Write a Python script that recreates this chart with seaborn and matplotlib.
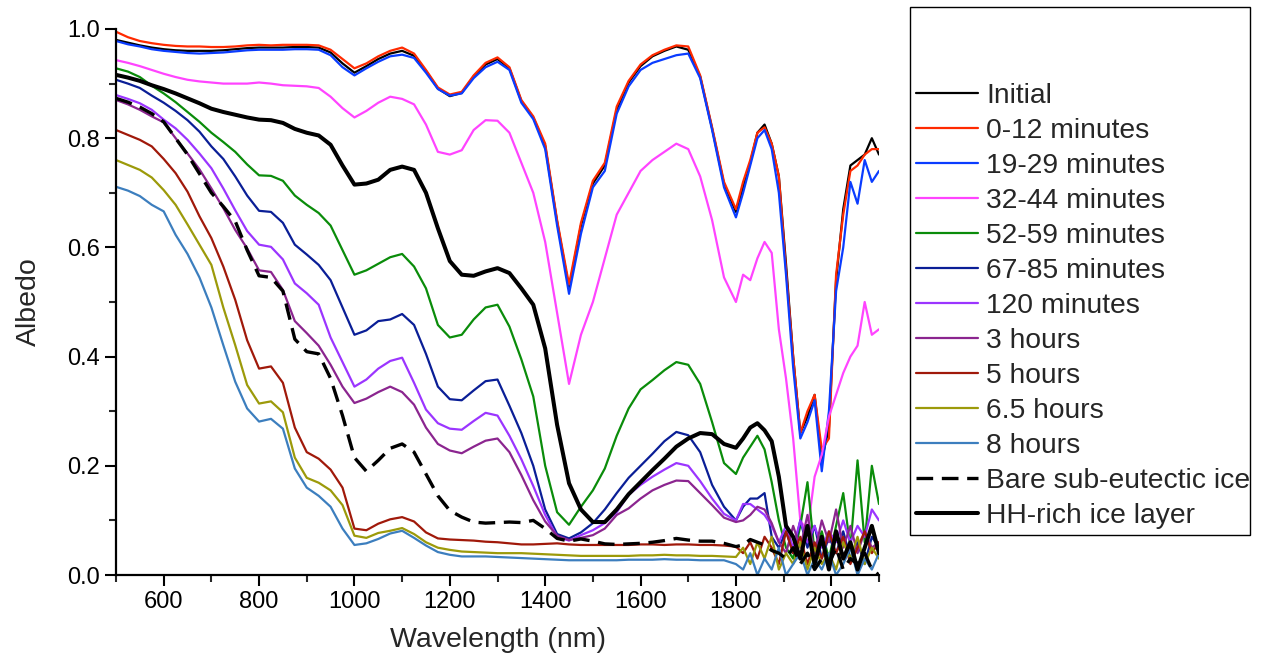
import numpy as np
import pandas as pd
import matplotlib
matplotlib.use("Agg")
import matplotlib.pyplot as plt
from matplotlib.lines import Line2D
from matplotlib.ticker import MultipleLocator, FormatStrFormatter
import seaborn as sns

# ---------------- data ----------------
wavelength = list(range(500, 1801, 25)) + list(range(1815, 2101, 15))

initial = [
    0.980, 0.975, 0.970, 0.966, 0.963, 0.961, 0.960, 0.960, 0.960, 0.961,
    0.963, 0.965, 0.966, 0.966, 0.966, 0.967, 0.967, 0.966, 0.957, 0.937,
    0.920, 0.932, 0.945, 0.955, 0.960, 0.951, 0.923, 0.891, 0.877, 0.883,
    0.913, 0.935, 0.945, 0.928, 0.868, 0.838, 0.786, 0.647, 0.525, 0.640,
    0.717, 0.750, 0.852, 0.902, 0.932, 0.950, 0.960, 0.968, 0.962, 0.913,
    0.818, 0.716, 0.665,
    0.71, 0.755, 0.81, 0.825, 0.79, 0.73, 0.57, 0.40, 0.26, 0.29,
    0.33, 0.21, 0.27, 0.54, 0.67, 0.75, 0.76, 0.77, 0.80, 0.77]

min_0_12 = [
    0.995, 0.985, 0.978, 0.974, 0.971, 0.969, 0.968, 0.968, 0.967, 0.967,
    0.968, 0.970, 0.971, 0.970, 0.971, 0.971, 0.971, 0.970, 0.962, 0.945,
    0.928, 0.937, 0.950, 0.960, 0.966, 0.955, 0.925, 0.893, 0.880, 0.885,
    0.915, 0.938, 0.948, 0.930, 0.870, 0.840, 0.790, 0.650, 0.532, 0.645,
    0.722, 0.755, 0.858, 0.905, 0.935, 0.952, 0.962, 0.970, 0.968, 0.915,
    0.820, 0.720, 0.670,
    0.72, 0.76, 0.81, 0.82, 0.79, 0.73, 0.56, 0.40, 0.26, 0.30,
    0.33, 0.23, 0.25, 0.55, 0.66, 0.74, 0.75, 0.77, 0.78, 0.78]

min_19_29 = [
    0.978, 0.972, 0.968, 0.963, 0.960, 0.958, 0.956, 0.955, 0.956, 0.957,
    0.959, 0.961, 0.962, 0.962, 0.962, 0.963, 0.963, 0.962, 0.952, 0.930,
    0.915, 0.928, 0.940, 0.950, 0.953, 0.947, 0.920, 0.890, 0.878, 0.882,
    0.910, 0.930, 0.940, 0.925, 0.865, 0.835, 0.780, 0.640, 0.515, 0.625,
    0.710, 0.740, 0.845, 0.895, 0.925, 0.938, 0.945, 0.952, 0.955, 0.910,
    0.815, 0.710, 0.655,
    0.70, 0.75, 0.80, 0.815, 0.78, 0.70, 0.55, 0.38, 0.25, 0.28,
    0.32, 0.19, 0.30, 0.52, 0.60, 0.72, 0.68, 0.76, 0.72, 0.74]

min_32_44 = [
    0.943, 0.938, 0.932, 0.925, 0.918, 0.912, 0.907, 0.904, 0.902, 0.900,
    0.900, 0.900, 0.902, 0.900, 0.897, 0.896, 0.895, 0.892, 0.876, 0.855,
    0.838, 0.850, 0.865, 0.876, 0.872, 0.862, 0.825, 0.775, 0.770, 0.778,
    0.815, 0.833, 0.832, 0.810, 0.755, 0.700, 0.610, 0.480, 0.350, 0.440,
    0.500, 0.580, 0.660, 0.700, 0.740, 0.760, 0.775, 0.790, 0.780, 0.730,
    0.650, 0.545, 0.500,
    0.55, 0.54, 0.58, 0.61, 0.59, 0.45, 0.36, 0.25, 0.10, 0.08,
    0.18, 0.22, 0.29, 0.33, 0.37, 0.40, 0.42, 0.50, 0.44, 0.45]

min_52_59 = [
    0.928, 0.922, 0.912, 0.896, 0.882, 0.866, 0.848, 0.830, 0.810, 0.793,
    0.775, 0.752, 0.732, 0.731, 0.722, 0.695, 0.678, 0.663, 0.640, 0.595,
    0.550, 0.558, 0.570, 0.582, 0.588, 0.565, 0.525, 0.458, 0.435, 0.440,
    0.468, 0.490, 0.495, 0.455, 0.395, 0.327, 0.200, 0.115, 0.092, 0.125,
    0.155, 0.195, 0.255, 0.305, 0.340, 0.357, 0.375, 0.390, 0.385, 0.350,
    0.280, 0.205, 0.185,
    0.215, 0.235, 0.255, 0.23, 0.17, 0.10, 0.05, 0.03, 0.09, 0.17,
    0.04, 0.08, 0.03, 0.09, 0.15, 0.05, 0.21, 0.06, 0.20, 0.13]

min_67_85 = [
    0.907, 0.900, 0.892, 0.878, 0.865, 0.850, 0.833, 0.812, 0.785, 0.762,
    0.730, 0.695, 0.667, 0.665, 0.645, 0.605, 0.587, 0.568, 0.540, 0.490,
    0.440, 0.448, 0.465, 0.468, 0.478, 0.458, 0.405, 0.345, 0.322, 0.320,
    0.338, 0.355, 0.358, 0.310, 0.260, 0.200, 0.120, 0.075, 0.067, 0.078,
    0.095, 0.120, 0.150, 0.178, 0.200, 0.222, 0.245, 0.262, 0.256, 0.225,
    0.165, 0.125, 0.100,
    0.125, 0.14, 0.14, 0.15, 0.07, 0.05, 0.08, 0.04, 0.10, 0.05,
    0.09, 0.03, 0.07, 0.04, 0.08, 0.03, 0.06, 0.02, 0.07, 0.05]

min_120 = [
    0.879, 0.872, 0.864, 0.852, 0.834, 0.818, 0.797, 0.772, 0.745, 0.708,
    0.668, 0.630, 0.605, 0.601, 0.578, 0.534, 0.516, 0.495, 0.435, 0.390,
    0.345, 0.358, 0.378, 0.392, 0.398, 0.352, 0.303, 0.278, 0.268, 0.266,
    0.282, 0.297, 0.292, 0.255, 0.212, 0.163, 0.110, 0.070, 0.063, 0.073,
    0.082, 0.095, 0.115, 0.147, 0.165, 0.180, 0.193, 0.205, 0.200, 0.172,
    0.140, 0.112, 0.100,
    0.13, 0.13, 0.12, 0.11, 0.09, 0.06, 0.09, 0.05, 0.10, 0.06,
    0.09, 0.05, 0.08, 0.06, 0.10, 0.06, 0.09, 0.07, 0.12, 0.10]

hours_3 = [
    0.870, 0.862, 0.852, 0.840, 0.829, 0.800, 0.772, 0.743, 0.708, 0.672,
    0.632, 0.598, 0.558, 0.555, 0.522, 0.465, 0.443, 0.420, 0.385, 0.345,
    0.315, 0.323, 0.335, 0.345, 0.335, 0.312, 0.270, 0.240, 0.228, 0.223,
    0.235, 0.246, 0.250, 0.225, 0.183, 0.137, 0.098, 0.072, 0.064, 0.068,
    0.073, 0.085, 0.110, 0.122, 0.140, 0.155, 0.165, 0.173, 0.172, 0.150,
    0.128, 0.105, 0.097,
    0.10, 0.11, 0.125, 0.12, 0.095, 0.06, 0.04, 0.09, 0.05, 0.11,
    0.04, 0.10, 0.06, 0.12, 0.05, 0.09, 0.04, 0.08, 0.05, 0.06]

hours_5 = [
    0.815, 0.806, 0.797, 0.785, 0.762, 0.736, 0.702, 0.657, 0.617, 0.565,
    0.504, 0.430, 0.378, 0.382, 0.352, 0.270, 0.225, 0.213, 0.193, 0.160,
    0.085, 0.082, 0.094, 0.102, 0.106, 0.098, 0.078, 0.067, 0.065, 0.064,
    0.063, 0.061, 0.060, 0.058, 0.056, 0.056, 0.057, 0.058, 0.056, 0.055,
    0.055, 0.055, 0.055, 0.055, 0.056, 0.056, 0.055, 0.056, 0.056, 0.055,
    0.055, 0.054, 0.052,
    0.04, 0.06, 0.03, 0.07, 0.05, 0.02, 0.08, 0.04, 0.07, 0.02,
    0.06, 0.03, 0.08, 0.04, 0.07, 0.02, 0.05, 0.08, 0.04, 0.06]

hours_6_5 = [
    0.760, 0.751, 0.742, 0.728, 0.705, 0.678, 0.642, 0.605, 0.568, 0.490,
    0.421, 0.348, 0.314, 0.318, 0.298, 0.215, 0.178, 0.169, 0.155, 0.128,
    0.072, 0.068, 0.077, 0.081, 0.086, 0.075, 0.060, 0.050, 0.046, 0.043,
    0.042, 0.041, 0.040, 0.040, 0.040, 0.039, 0.038, 0.037, 0.036, 0.035,
    0.035, 0.035, 0.035, 0.035, 0.036, 0.036, 0.037, 0.036, 0.036, 0.035,
    0.035, 0.034, 0.033,
    0.05, 0.02, 0.06, 0.03, 0.07, 0.01, 0.04, 0.02, 0.06, 0.01,
    0.05, 0.02, 0.04, 0.01, 0.06, 0.03, 0.07, 0.02, 0.05, 0.03]

hours_8 = [
    0.711, 0.704, 0.694, 0.678, 0.666, 0.623, 0.588, 0.545, 0.490, 0.421,
    0.354, 0.305, 0.281, 0.286, 0.268, 0.195, 0.160, 0.145, 0.125, 0.085,
    0.055, 0.058, 0.066, 0.076, 0.081, 0.068, 0.054, 0.042, 0.037, 0.034,
    0.034, 0.034, 0.033, 0.032, 0.031, 0.030, 0.029, 0.028, 0.027, 0.027,
    0.027, 0.027, 0.027, 0.028, 0.028, 0.028, 0.029, 0.028, 0.028, 0.027,
    0.027, 0.027, 0.020,
    0.01, 0.04, 0.00, 0.03, 0.01, 0.05, 0.00, 0.02, 0.04, 0.00,
    0.03, 0.01, 0.04, 0.00, 0.02, 0.05, 0.00, 0.03, 0.01, 0.04]

bare_ice = [
    0.873, 0.866, 0.857, 0.845, 0.830, 0.800, 0.770, 0.735, 0.700, 0.675,
    0.648, 0.595, 0.548, 0.545, 0.520, 0.432, 0.409, 0.405, 0.360, 0.292,
    0.215, 0.190, 0.210, 0.232, 0.240, 0.225, 0.185, 0.145, 0.118, 0.106,
    0.097, 0.095, 0.096, 0.097, 0.096, 0.100, 0.085, 0.067, 0.062, 0.066,
    0.062, 0.057, 0.056, 0.057, 0.058, 0.060, 0.063, 0.067, 0.064, 0.062,
    0.062, 0.058, 0.052,
    0.055, 0.065, 0.06, 0.055, 0.045, 0.04, 0.03, 0.05, 0.02, 0.04,
    0.01, 0.03, 0.02, 0.05, 0.01, 0.03, 0.02, 0.04, 0.01, 0.00]

hh_layer = [
    0.916, 0.911, 0.905, 0.897, 0.890, 0.882, 0.873, 0.864, 0.854, 0.848,
    0.843, 0.838, 0.834, 0.833, 0.828, 0.817, 0.810, 0.805, 0.788, 0.750,
    0.715, 0.717, 0.724, 0.742, 0.748, 0.742, 0.700, 0.635, 0.575, 0.550,
    0.548, 0.556, 0.562, 0.553, 0.525, 0.495, 0.415, 0.275, 0.168, 0.120,
    0.097, 0.097, 0.120, 0.148, 0.170, 0.192, 0.213, 0.235, 0.250, 0.260,
    0.258, 0.240, 0.233,
    0.25, 0.27, 0.278, 0.265, 0.245, 0.18, 0.09, 0.07, 0.03, 0.09,
    0.02, 0.07, 0.01, 0.08, 0.03, 0.06, 0.01, 0.05, 0.09, 0.04]

labels = ["Initial", "0-12 minutes", "19-29 minutes", "32-44 minutes",
          "52-59 minutes", "67-85 minutes", "120 minutes", "3 hours",
          "5 hours", "6.5 hours", "8 hours", "Bare sub-eutectic ice",
          "HH-rich ice layer"]
series = [initial, min_0_12, min_19_29, min_32_44, min_52_59, min_67_85,
          min_120, hours_3, hours_5, hours_6_5, hours_8, bare_ice, hh_layer]
colors = ["#000000", "#FF2A00", "#0A3CFF", "#FF44FF", "#0A8C0A", "#0A1E96",
          "#9B35FF", "#8B258F", "#A0190A", "#9C9A0A", "#3C7EBE", "#000000",
          "#000000"]
widths = [1.6] * 11 + [2.4, 2.9]
styles = ["-"] * 11 + [(0, (5, 2.6)), "-"]

# ---------------- figure ----------------
sns.set_style("ticks")
plt.rcParams['font.family'] = ['Liberation Sans', 'DejaVu Sans']

W, H = 1267, 667
fig = plt.figure(figsize=(W / 100, H / 100), dpi=100)
ax = fig.add_axes([116 / W, (H - 575) / H, (879 - 116) / W, (575 - 29) / H])

df = pd.concat([pd.DataFrame({"wavelength": wavelength, "albedo": vals, "series": lab})
                for lab, vals in zip(labels, series)], ignore_index=True)

handles = []
for lab, col, lw, ls in zip(labels, colors, widths, styles):
    sub = df[df["series"] == lab]
    sns.lineplot(data=sub, x="wavelength", y="albedo", color=col, linewidth=lw,
                 ax=ax, legend=False, estimator=None)
    line = ax.lines[-1]
    line.set_linestyle(ls)
    handles.append(line)

ax.set_xlim(500, 2100)
ax.set_ylim(0, 1.0)
ax.set_xticks(list(range(600, 2001, 200)))
ax.xaxis.set_minor_locator(MultipleLocator(100))
ax.yaxis.set_major_locator(MultipleLocator(0.2))
ax.yaxis.set_minor_locator(MultipleLocator(0.1))
ax.yaxis.set_major_formatter(FormatStrFormatter("%.1f"))
ax.tick_params(which="major", direction="out", length=8, width=1.5,
               labelsize=17, colors="black")
ax.tick_params(which="minor", direction="out", length=5, width=1.5)
sns.despine(ax=ax)
for s in ("left", "bottom"):
    ax.spines[s].set_linewidth(1.6)
    ax.spines[s].set_color("black")

ax.set_xlabel("Wavelength (nm)", fontsize=20.5, labelpad=10)
ax.set_ylabel("Albedo", fontsize=20.5, labelpad=18)

blank = Line2D([], [], color="none")
leg = ax.legend(handles=[blank, blank] + handles, labels=[" ", " "] + labels,
                loc="upper left", bbox_to_anchor=(910 / W, 1 - 8 / H, 340 / W, 0.001),
                bbox_transform=fig.transFigure, mode="expand", borderaxespad=0,
                borderpad=0.2, fontsize=20.3, handlelength=2.2, handletextpad=0.3,
                labelspacing=0.32, frameon=True, fancybox=False, framealpha=1)
leg.get_frame().set_edgecolor("black")
leg.get_frame().set_linewidth(1.0)

fig.savefig("out.png", dpi=100)
